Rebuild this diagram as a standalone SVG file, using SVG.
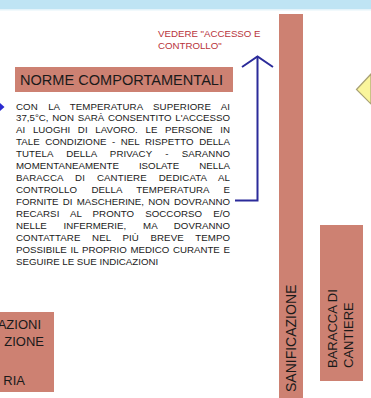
<svg xmlns="http://www.w3.org/2000/svg" width="371" height="398" viewBox="0 0 371 398">
<style>
.box{fill:#cd8172;}
.t{font-family:"Liberation Sans",Arial,sans-serif;fill:#1a1a1a;}
.body{font-size:9.7px;}
.red{font-family:"Liberation Sans",Arial,sans-serif;font-size:9.7px;fill:#b8333a;}
.conn{fill:none;stroke:#2b2b9a;stroke-width:2;}
</style>
<rect x="0" y="0" width="371" height="398" fill="#ffffff"/>
<rect x="0" y="0" width="371" height="9" fill="#bfe4f4"/>
<rect x="0" y="9" width="371" height="1.5" fill="#e4f3fa"/>

<g id="diamond">
<polygon points="356.5,89.5 371,74 371,104" fill="#faf59c" stroke="#a9a274" stroke-width="1.2"/>
</g>

<g id="sanificazione">
<rect class="box" x="279" y="14" width="24" height="384"/>
<text class="t" font-size="14" transform="translate(296,392) rotate(-90)">SANIFICAZIONE</text>
</g>

<g id="baracca">
<rect class="box" x="320" y="225" width="43" height="156"/>
<text class="t" font-size="13" transform="translate(337,368) rotate(-90)">BARACCA DI</text>
<text class="t" font-size="13" transform="translate(353,368) rotate(-90)">CANTIERE</text>
</g>

<g id="norme">
<rect class="box" x="15" y="67" width="218" height="25"/>
<text class="t" x="20" y="85" font-size="14.4" textLength="203" lengthAdjust="spacingAndGlyphs">NORME COMPORTAMENTALI</text>
</g>

<g id="vedere">
<text class="red" x="158" y="36.5">VEDERE "ACCESSO E</text>
<text class="red" x="158" y="48.5">CONTROLLO"</text>
</g>

<g id="body-text" class="t body">
<text x="16" y="109.5" word-spacing="7.55" textLength="214" lengthAdjust="spacing">CON LA TEMPERATURA SUPERIORE AI</text>
<text x="16" y="121.45" word-spacing="1.13" textLength="214" lengthAdjust="spacing">37,5°C, NON SARÀ CONSENTITO L'ACCESSO</text>
<text x="16" y="133.4" word-spacing="4.94" textLength="214" lengthAdjust="spacing">AI LUOGHI DI LAVORO. LE PERSONE IN</text>
<text x="16" y="145.35" word-spacing="2.81" textLength="214" lengthAdjust="spacing">TALE CONDIZIONE - NEL RISPETTO DELLA</text>
<text x="16" y="157.3" word-spacing="10.38" textLength="214" lengthAdjust="spacing">TUTELA DELLA PRIVACY - SARANNO</text>
<text x="16" y="169.25" word-spacing="17.29" textLength="214" lengthAdjust="spacing">MOMENTANEAMENTE ISOLATE NELLA</text>
<text x="16" y="181.2" word-spacing="9.17" textLength="214" lengthAdjust="spacing">BARACCA DI CANTIERE DEDICATA AL</text>
<text x="16" y="193.15" word-spacing="11.68" textLength="214" lengthAdjust="spacing">CONTROLLO DELLA TEMPERATURA E</text>
<text x="16" y="205.1" word-spacing="1.49" textLength="214" lengthAdjust="spacing">FORNITE DI MASCHERINE, NON DOVRANNO</text>
<text x="16" y="217.05" word-spacing="8.36" textLength="214" lengthAdjust="spacing">RECARSI AL PRONTO SOCCORSO E/O</text>
<text x="16" y="229" word-spacing="14.02" textLength="214" lengthAdjust="spacing">NELLE INFERMERIE, MA DOVRANNO</text>
<text x="16" y="240.95" word-spacing="8.76" textLength="214" lengthAdjust="spacing">CONTATTARE NEL PIÙ BREVE TEMPO</text>
<text x="16" y="252.9" word-spacing="0.99" textLength="214" lengthAdjust="spacing">POSSIBILE IL PROPRIO MEDICO CURANTE E</text>
<text x="16" y="264.85">SEGUIRE LE SUE INDICAZIONI</text>
</g>

<g id="bottom-left">
<rect class="box" x="0" y="312" width="54" height="80"/>
<text class="t" font-size="13" x="41" y="328.5" text-anchor="end">AZIONI</text>
<text class="t" font-size="13" x="44" y="345.5" text-anchor="end">ZIONE</text>
<text class="t" font-size="13" x="25" y="385" text-anchor="end">RIA</text>
</g>

<g id="connectors">
<polyline class="conn" points="235,200.5 257.5,200.5 257.5,57"/>
<polyline class="conn" points="242,67 257.5,56.5 273,67"/>
<polygon points="0,103 4.5,107 0,111" fill="#2a2ad0"/>
</g>
</svg>
